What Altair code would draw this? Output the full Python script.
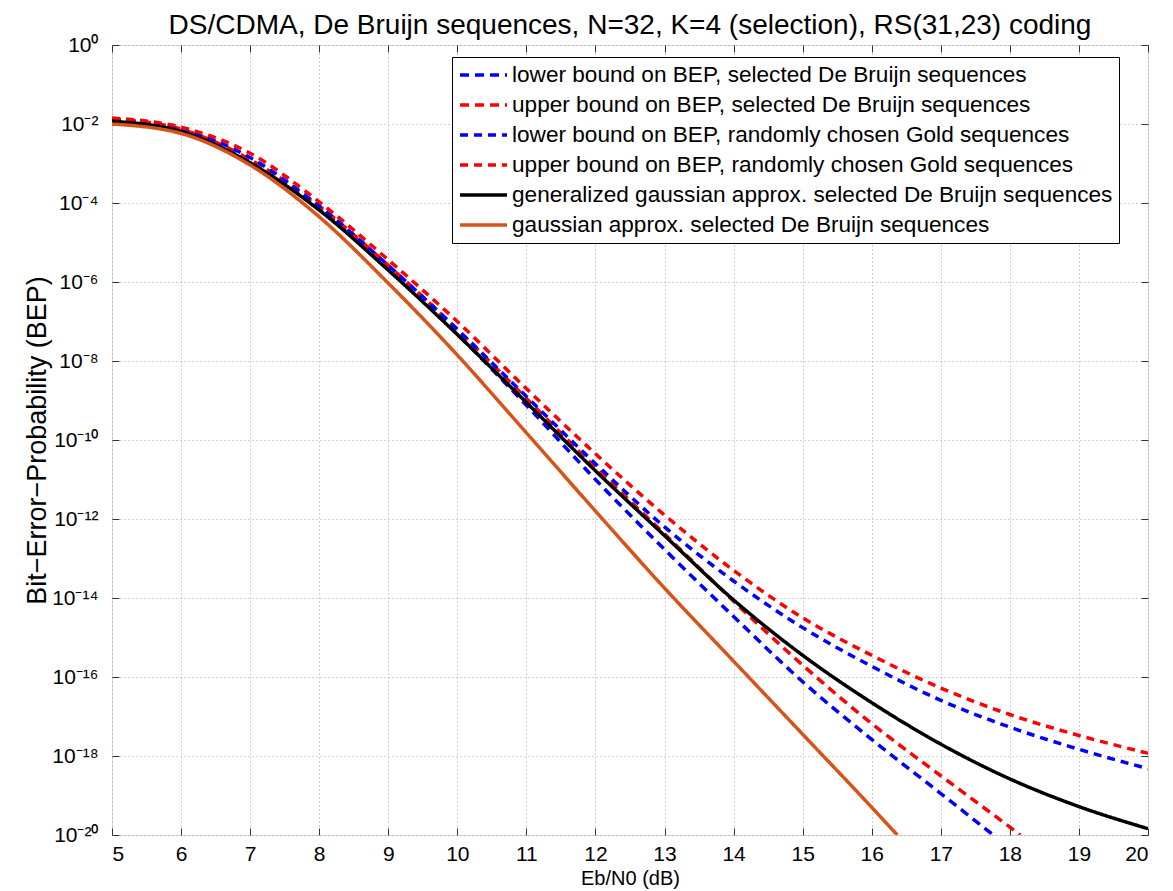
import altair as alt
import pandas as pd

# ---------------- data (log10 of BEP) ----------------
ebn0 = [5, 6, 7, 8, 9, 10, 11, 12, 13, 14, 15, 16, 17, 18, 19, 20]

lower_db_x = [5, 6, 7, 8, 9, 10, 11, 12, 13, 14, 15, 16, 17, 17.76]
lower_db_exp = [-1.89, -2.16, -2.94, -4.14, -5.65, -7.32, -9.12, -11.0, -12.77, -14.47, -16.12, -17.58, -18.95, -20.0]

upper_db_x = [5, 6, 7, 8, 9, 10, 11, 12, 13, 14, 15, 16, 17, 18, 18.15]
upper_db_exp = [-1.87, -2.13, -2.9, -4.08, -5.58, -7.2, -8.95, -10.7, -12.38, -14.08, -15.7, -17.18, -18.5, -19.8, -20.0]

lower_gold_x = ebn0
lower_gold_exp = [-1.88, -2.13, -2.85, -4.08, -5.58, -7.2, -8.9, -10.6, -12.2, -13.57, -14.75, -15.73, -16.59, -17.27, -17.83, -18.32]

upper_gold_x = ebn0
upper_gold_exp = [-1.85, -2.08, -2.74, -3.97, -5.44, -7.0, -8.7, -10.35, -11.9, -13.3, -14.5, -15.45, -16.28, -16.95, -17.48, -17.93]

gen_gauss_x = ebn0
gen_gauss_exp = [-1.93, -2.19, -2.98, -4.18, -5.70, -7.33, -9.05, -10.78, -12.42, -14.05, -15.45, -16.65, -17.7, -18.58, -19.28, -19.84]

gauss_x = [5, 6, 7, 8, 9, 10, 11, 12, 13, 14, 15, 16, 16.37]
gauss_exp = [-2.0, -2.24, -3.04, -4.35, -6.03, -7.85, -9.82, -11.8, -13.75, -15.6, -17.45, -19.3, -20.0]

series_names = [
    "lower bound on BEP, selected De Bruijn sequences",
    "upper bound on BEP, selected De Bruijn sequences",
    "lower bound on BEP, randomly chosen Gold sequences",
    "upper bound on BEP, randomly chosen Gold sequences",
    "generalized gaussian approx. selected De Bruijn sequences",
    "gaussian approx. selected De Bruijn sequences",
]
series_colors = ["#0000ff", "#ff0000", "#0000ff", "#ff0000", "#000000", "#d95319"]
series_dashes = [[9, 6], [9, 6], [8, 6], [8, 6], [1, 0], [1, 0]]
series_widths = [3.5, 3.5, 1.2, 1.2, 3.0, 2.6]

x_ticks = list(range(5, 21))
y_tick_exps = [0, -2, -4, -6, -8, -10, -12, -14, -16, -18, -20]

title_text = "DS/CDMA, De Bruijn sequences, N=32, K=4 (selection), RS(31,23) coding"
x_title = "Eb/N0 (dB)"
y_title = "Bit\u2212Error\u2212Probability (BEP)"

# ---------------- build table ----------------
all_x = [lower_db_x, upper_db_x, lower_gold_x, upper_gold_x, gen_gauss_x, gauss_x]
all_e = [lower_db_exp, upper_db_exp, lower_gold_exp, upper_gold_exp, gen_gauss_exp, gauss_exp]
rows = []
for name, xs, es in zip(series_names, all_x, all_e):
    for xv, ev in zip(xs, es):
        rows.append({"ebn0": xv, "bep": 10.0 ** ev, "series": name})
df = pd.DataFrame(rows)

y_ticks = [10.0 ** e for e in y_tick_exps]

sup = str.maketrans("0123456789-", "\u2070\u00b9\u00b2\u00b3\u2074\u2075\u2076\u2077\u2078\u2079\u207b")
label_expr = "''"
for e in y_tick_exps:
    label_expr = f"round(log(datum.value)/LN10) == {e} ? '10{str(e).translate(sup)}' : (" + label_expr + ")"

FONT = "Liberation Sans"
xscale = alt.Scale(domain=[5, 20], nice=False, zero=False)
yscale = alt.Scale(type="log", domain=[1e-20, 1], nice=False)

grid_kw = dict(grid=True, gridDash=[1, 3], gridColor="#a0a0a0", gridWidth=1, gridOpacity=1,
               ticks=False, labels=False, domain=False, title=None)

grid_layer = alt.Chart(df).mark_point(opacity=0).encode(
    x=alt.X("ebn0:Q", scale=xscale, axis=alt.Axis(orient="bottom", values=x_ticks, **grid_kw)),
    y=alt.Y("bep:Q", scale=yscale, axis=alt.Axis(orient="left", values=y_ticks, **grid_kw)),
)

bl_layer = alt.Chart(df).mark_point(opacity=0).encode(
    x=alt.X("ebn0:Q", scale=xscale, axis=alt.Axis(
        orient="bottom", values=x_ticks, offset=-7, tickSize=7, tickColor="#333", tickWidth=1,
        domain=False, grid=False, labelFont=FONT, labelFontSize=21, labelColor="#000",
        labelPadding=8, title=x_title, titleFont=FONT, titleFontSize=20, titleFontWeight="normal",
        titleColor="#000", titlePadding=4)),
    y=alt.Y("bep:Q", scale=yscale, axis=alt.Axis(
        orient="left", values=y_ticks, offset=-7, tickSize=7, tickColor="#333", tickWidth=1,
        domain=False, grid=False, labelFont=FONT, labelFontSize=21, labelColor="#000",
        labelPadding=14, labelExpr=label_expr, title=y_title, titleFont=FONT, titleFontSize=27,
        titleFontWeight="normal", titleColor="#000", titlePadding=0)),
)

tr_layer = alt.Chart(df).mark_point(opacity=0).encode(
    x=alt.X("ebn0:Q", scale=xscale, axis=alt.Axis(
        orient="top", values=x_ticks, offset=-7, tickSize=7, tickColor="#333", tickWidth=1,
        domain=False, grid=False, labels=False, title=None)),
    y=alt.Y("bep:Q", scale=yscale, axis=alt.Axis(
        orient="right", values=y_ticks, offset=-7, tickSize=7, tickColor="#333", tickWidth=1,
        domain=False, grid=False, labels=False, title=None)),
)

legend = alt.Legend(
    title=None, orient="none", legendX=340, legendY=12,
    strokeColor="#000", fillColor="#fff", padding=6, cornerRadius=0,
    symbolType="M-1,0H3.7", symbolSize=400, labelFont=FONT, labelFontSize=22.6,
    labelColor="#000", labelOffset=30, rowPadding=6, labelLimit=0,
)

line_layers = []
for name in series_names:
    line_layers.append(
        alt.Chart(df).transform_filter(alt.datum.series == name).mark_line(
            clip=True, interpolate="monotone"
        ).encode(
            x=alt.X("ebn0:Q", scale=xscale, axis=None),
            y=alt.Y("bep:Q", scale=yscale, axis=None),
            color=alt.Color("series:N", scale=alt.Scale(domain=series_names, range=series_colors), legend=legend),
            strokeDash=alt.StrokeDash("series:N", scale=alt.Scale(domain=series_names, range=series_dashes), legend=legend),
            strokeWidth=alt.StrokeWidth("series:N", scale=alt.Scale(domain=series_names, range=series_widths), legend=legend),
        )
    )

chart = alt.layer(grid_layer, *line_layers, bl_layer, tr_layer).resolve_axis(
    x="independent", y="independent"
).properties(
    width=1036, height=790,
    padding={"left": 104, "top": 37, "right": 17, "bottom": 56},
    autosize=alt.AutoSizeParams(type="none"),
    title=alt.TitleParams(title_text, font=FONT, fontSize=28, fontWeight="normal", color="#000",
                          anchor="middle", offset=0, dy=6),
).configure_view(stroke="#000", strokeWidth=1).configure(background="white")

chart.save("out.html", embed_options={"renderer": "svg", "actions": False})
